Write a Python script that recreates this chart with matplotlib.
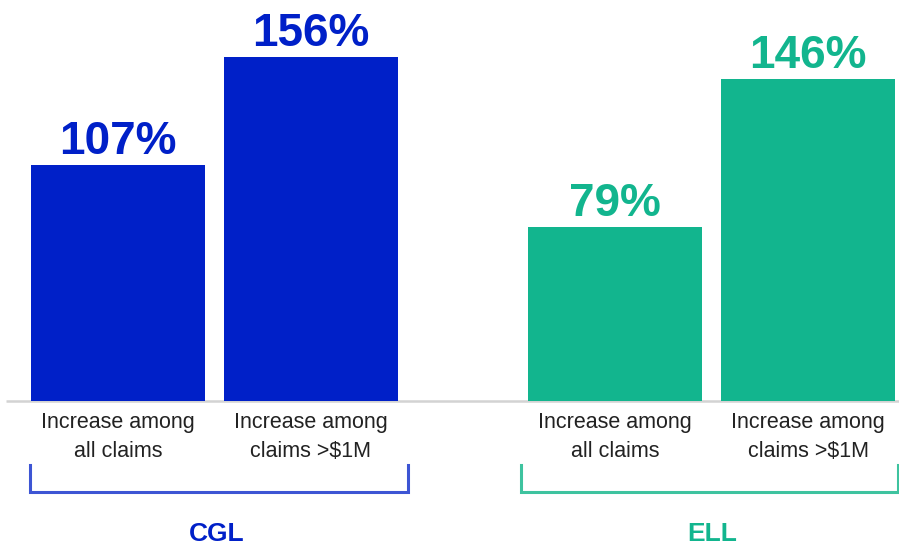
import matplotlib
matplotlib.use('Agg')
import matplotlib.pyplot as plt

plt.rcParams['font.family'] = ['Liberation Sans', 'DejaVu Sans']

groups = ['CGL', 'ELL']
categories = ['Increase among\nall claims', 'Increase among\nclaims >$1M']
values = {'CGL': [107, 156], 'ELL': [79, 146]}
bar_colors = {'CGL': '#0020c8', 'ELL': '#12b58e'}
bracket_colors = {'CGL': '#3d55d4', 'ELL': '#3ec39f'}

W, H = 899, 548
base_px = 401            # pixel row of the baseline
k = 236 / 107            # pixels per percentage point


def py(p):
    # pixel row (from top) -> data value
    return (base_px - p) / k


fig = plt.figure(figsize=(W / 100, H / 100), dpi=100)
ax = fig.add_axes([0, 0, 1, 1])
ax.set_xlim(0, W)
ax.set_ylim(py(H), py(0))
ax.axis('off')

bar_w = 174
centers = {'CGL': [118, 311], 'ELL': [615, 808]}
brackets = {'CGL': (30, 408), 'ELL': (521, 898)}
group_x = {'CGL': 217, 'ELL': 712}

ax.plot([6, W], [0, 0], color='#d3d3d3', lw=1.8, zorder=1, solid_capstyle='butt')

for g in groups:
    xs = centers[g]
    ax.bar(xs, values[g], width=bar_w, color=bar_colors[g], zorder=2)
    for x, v, cat in zip(xs, values[g], categories):
        ax.text(x, v + 11 / k, '%d%%' % v, ha='center', va='baseline',
                fontsize=33, fontweight='bold', color=bar_colors[g])
        l1, l2 = cat.split('\n')
        ax.text(x, py(428), l1, ha='center', va='baseline', fontsize=15.5, color='#222222')
        ax.text(x, py(457), l2, ha='center', va='baseline', fontsize=15.5, color='#222222')
    x0, x1 = brackets[g]
    ax.plot([x0, x0, x1, x1], [py(465), py(492), py(492), py(465)],
            color=bracket_colors[g], lw=2.2, solid_joinstyle='miter')
    ax.text(group_x[g], py(541), g, ha='center', va='baseline',
            fontsize=19, fontweight='bold', color=bar_colors[g])

fig.savefig('out.png', dpi=100)
